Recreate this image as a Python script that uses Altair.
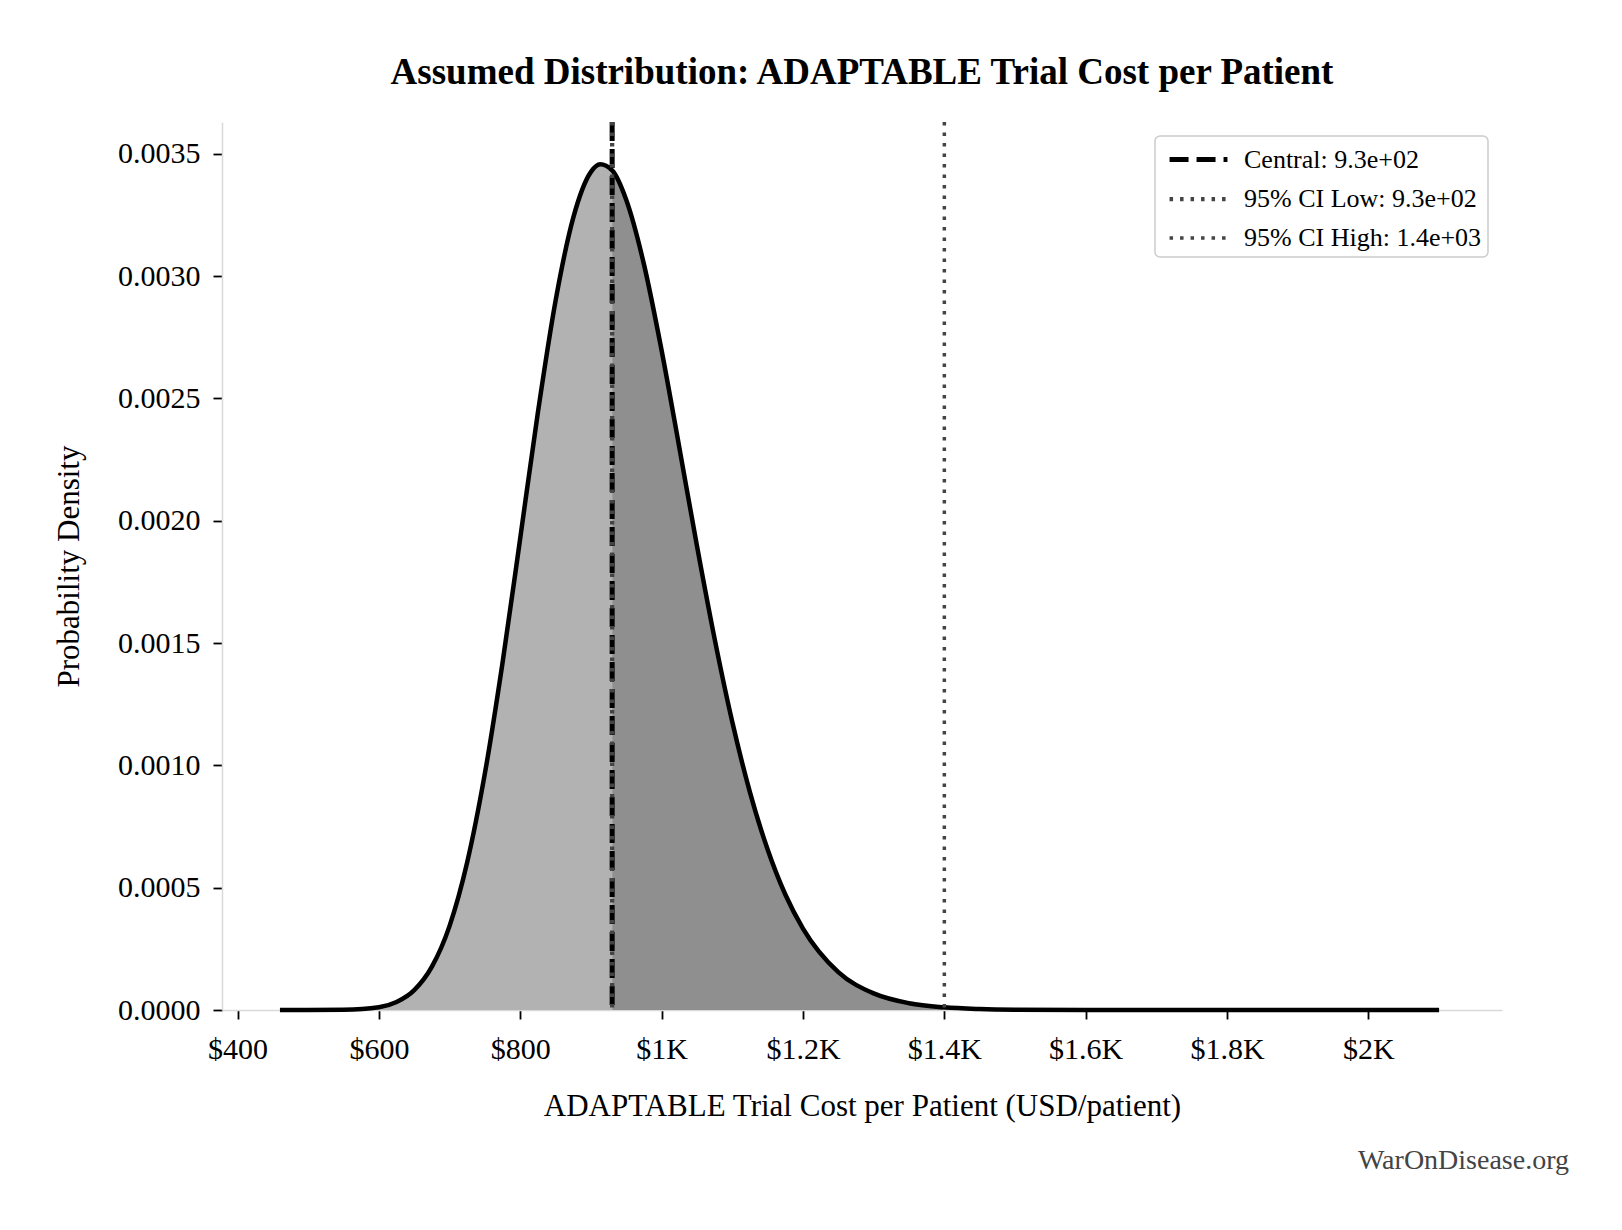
import altair as alt
import pandas as pd

# density curve (USD/patient -> probability density)
cost = [460, 500, 550, 600, 625, 650, 675, 700, 725, 750, 775, 800, 825, 850,
        875, 900, 913, 930, 950, 975, 1000, 1025, 1050, 1075, 1100, 1125, 1150,
        1175, 1200, 1250, 1300, 1350, 1400, 1450, 1500, 1600, 1800, 2100]
density = [0.0, 0.0, 0.000001, 0.0000114, 0.0000326, 0.000081, 0.000177,
           0.000344, 0.000605, 0.000968, 0.001421, 0.00193, 0.002444, 0.0029,
           0.003239, 0.003426, 0.003457, 0.003432, 0.003311, 0.003048, 0.002696,
           0.0023, 0.001897, 0.001517, 0.001177, 0.00089, 0.000656, 0.000472,
           0.000333, 0.000155, 0.0000678, 0.0000277, 0.0000108, 0.000004,
           0.0000014, 0.0000001, 0.0, 0.0]

central = 930
ci_low = 930
ci_high = 1400
line_labels = ["Central: 9.3e+02", "95% CI Low: 9.3e+02", "95% CI High: 1.4e+03"]
line_values = [central, ci_low, ci_high]

x_ticks = [400, 600, 800, 1000, 1200, 1400, 1600, 1800, 2000]
y_ticks = [0.0, 0.0005, 0.0010, 0.0015, 0.0020, 0.0025, 0.0030, 0.0035]

title = "Assumed Distribution: ADAPTABLE Trial Cost per Patient"
x_title = "ADAPTABLE Trial Cost per Patient (USD/patient)"
y_title = "Probability Density"
footer = "WarOnDisease.org"

FONT = "Liberation Serif"

curve = pd.DataFrame({"cost": cost, "density": density})
left = curve[curve["cost"] <= central]
right = curve[curve["cost"] >= central]
lines = pd.DataFrame({"label": line_labels, "value": line_values})

x_scale = alt.Scale(domain=[378, 2189], nice=False, zero=False)
y_scale = alt.Scale(domain=[0, 0.00363], nice=False)

x_axis = alt.Axis(
    values=x_ticks,
    title=x_title,
    labelExpr="datum.value < 1000 ? '$' + datum.value : '$' + (datum.value / 1000) + 'K'",
    titlePadding=27,
    labelPadding=15,
)
y_axis = alt.Axis(values=y_ticks, format=".4f", title=y_title, titlePadding=32, labelPadding=13)

x_enc = alt.X("cost:Q", scale=x_scale, axis=x_axis)
y_enc = alt.Y("density:Q", scale=y_scale, axis=y_axis)

area_left = alt.Chart(left).mark_area(color="#b2b2b2", interpolate="monotone").encode(x=x_enc, y=y_enc)
area_right = alt.Chart(right).mark_area(color="#8f8f8f", interpolate="monotone").encode(x=x_enc, y=y_enc)
curve_line = (
    alt.Chart(curve)
    .mark_line(color="black", strokeWidth=4.5, interpolate="monotone")
    .encode(x=x_enc, y=y_enc)
)

rules = (
    alt.Chart(lines)
    .mark_rule()
    .encode(
        x=alt.X("value:Q", scale=x_scale),
        color=alt.Color("label:N", scale=alt.Scale(domain=line_labels, range=["#000000", "#444444", "#444444"]),
                        title=None),
        strokeDash=alt.StrokeDash("label:N", scale=alt.Scale(domain=line_labels, range=[[19, 8], [3.5, 7], [3.5, 7]]),
                                  title=None),
        strokeWidth=alt.StrokeWidth("label:N", scale=alt.Scale(domain=line_labels, range=[5, 3.5, 3.5]),
                                    title=None),
        order=alt.Order("value:Q"),
    )
)

credit = (
    alt.Chart(pd.DataFrame({"t": [footer]}))
    .mark_text(align="right", baseline="middle", font=FONT, fontSize=28, color="#444444")
    .encode(text="t:N", x=alt.value(1347), y=alt.value(1039))
)

chart = (
    alt.layer(area_left, area_right, curve_line, rules, credit)
    .properties(
        width=1280,
        height=888,
        autosize=alt.AutoSizeParams(type="none"),
        padding={"left": 214, "top": 114, "right": 112, "bottom": 212},
        title=alt.TitleParams(title, font=FONT, fontSize=37, fontWeight="bold", anchor="middle",
                              color="black", offset=28),
    )
    .configure_view(stroke=None)
    .configure_axis(
        labelFont=FONT,
        titleFont=FONT,
        labelFontSize=30,
        titleFontSize=31,
        titleFontWeight="normal",
        labelColor="black",
        titleColor="black",
        domainColor="#d9d9d9",
        domainWidth=1.5,
        tickColor="black",
        tickWidth=1.8,
        tickSize=9,
        grid=False,
    )
    .configure_legend(
        orient="top-right",
        offset=14,
        fillColor="white",
        strokeColor="#cccccc",
        strokeWidth=1.5,
        cornerRadius=5,
        padding=6,
        labelFont=FONT,
        labelFontSize=26,
        labelColor="black",
        labelLimit=500,
        symbolType="M-1.93,0L1.93,0",
        symbolSize=900,
        symbolOffset=20,
        rowPadding=8.5,
        labelOffset=28,
    )
)

chart.save("out.html", embed_options={"renderer": "svg", "actions": False})
